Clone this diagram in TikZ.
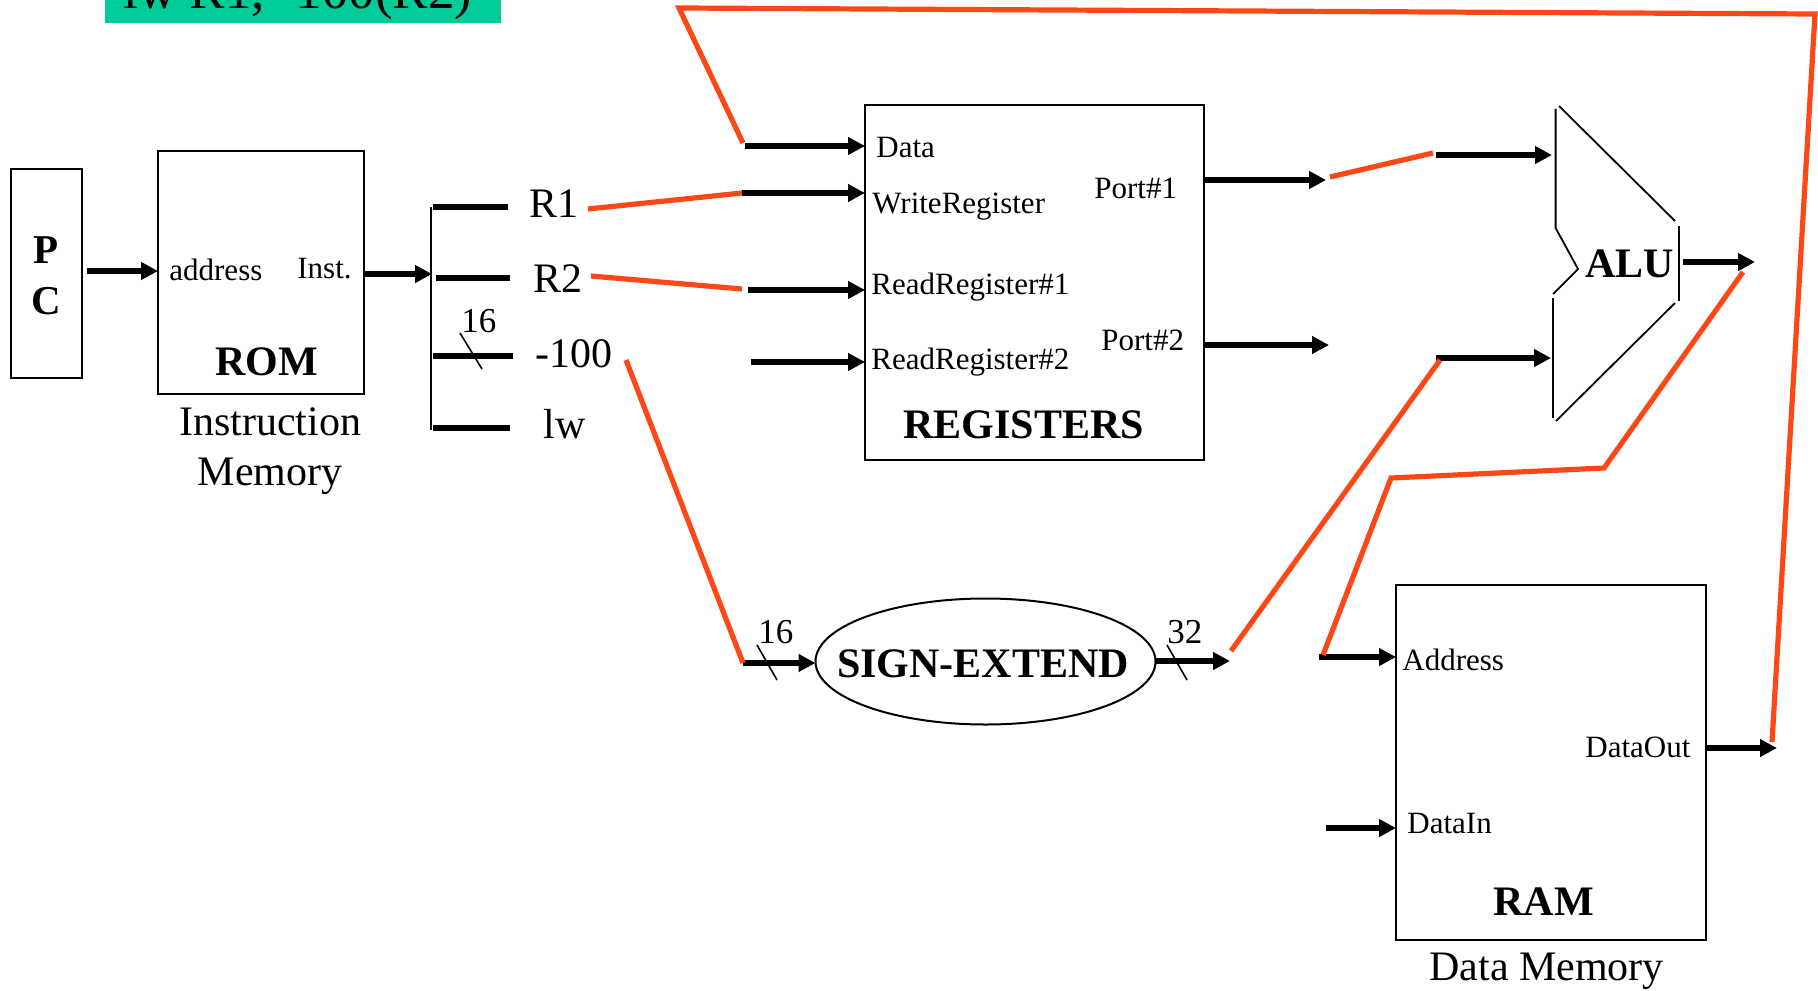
\documentclass[tikz,border=0pt]{standalone}
\usepackage{fontspec}
\setmainfont{Liberation Serif}
\usetikzlibrary{arrows.meta,shapes.geometric,calc}
\definecolor{wire}{RGB}{252,72,22}
\definecolor{banner}{RGB}{0,204,153}

\begin{document}
\begin{tikzpicture}[x=0.5pt,y=-0.5pt,
  box/.style={draw, line width=1pt, inner sep=0pt, outer sep=0pt},
  arr/.style={line width=2.75pt, -{Triangle[length=8.5pt,width=8.5pt]}},
  busline/.style={line width=2.75pt},
  fb/.style={draw=wire, line width=2.6pt, line join=miter},
  thinline/.style={line width=0.8pt},
  lbl/.style={inner sep=0pt, anchor=base west, font=\fontsize{15.5pt}{18pt}\selectfont},
  big/.style={inner sep=0pt, anchor=base west, font=\fontsize{21pt}{25pt}\selectfont},
  bigb/.style={inner sep=0pt, anchor=base west, font=\fontsize{21pt}{25pt}\selectfont\bfseries},
  width/.style={inner sep=0pt, anchor=base west, font=\fontsize{17.5pt}{21pt}\selectfont}]

\useasboundingbox (0,0) rectangle (1818,990);
\clip (0,0) rectangle (1818,990);

% instruction banner
\fill[banner] (105,0) rectangle (501,23);
\node[inner sep=0pt, anchor=base west, font=\fontsize{26.5pt}{30pt}\selectfont] (title) at (123,9) {lw R1, -100(R2)};

% ---- blocks ----
\node[box, minimum width=35.5pt, minimum height=104.5pt] (pc) at (46.5,273.5) {};
\node[inner sep=0pt, anchor=base, font=\fontsize{20.5pt}{24pt}\selectfont\bfseries] (pcP) at (46,263) {P};
\node[inner sep=0pt, anchor=base, font=\fontsize{20.5pt}{24pt}\selectfont\bfseries] (pcC) at (46,314) {C};

\node[box, minimum width=103pt, minimum height=121.5pt] (rom) at (261,272.5) {};
\node[lbl] (romA) at (169,280) {address};
\node[lbl] (romI) at (297,278) {Inst.};
\node[bigb] (romN) at (215,375) {ROM};
\node[big, anchor=base] (imem1) at (270,435) {Instruction};
\node[big, anchor=base] (imem2) at (270,485) {Memory};

\node[box, minimum width=169.5pt, minimum height=177.5pt] (reg) at (1034.5,282.5) {};
\node[lbl] (rData) at (876,157) {Data};
\node[lbl] (rWR) at (872,213) {WriteRegister};
\node[lbl] (rP1) at (1094,198) {Port\#1};
\node[lbl] (rRR1) at (871,294) {ReadRegister\#1};
\node[lbl] (rRR2) at (871,369) {ReadRegister\#2};
\node[lbl] (rP2) at (1101,350) {Port\#2};
\node[bigb] (rN) at (903,438) {REGISTERS};

\node[box, minimum width=154.75pt, minimum height=177.5pt] (ram) at (1550.75,762.5) {};
\node[lbl] (mAddr) at (1402,670) {Address};
\node[lbl] (mOut) at (1585,757) {DataOut};
\node[lbl] (mIn) at (1407,833) {DataIn};
\node[bigb] (mN) at (1493,915) {RAM};
\node[big] (dmem) at (1429,980) {Data Memory};

\node[box, ellipse, minimum width=170pt, minimum height=63pt] (se) at (985.5,661.5) {};
\node[bigb, anchor=base] (seN) at (983,677) {SIGN-EXTEND};

% ---- ALU outline ----
\begin{scope}[line width=0.9pt]
  \draw (1555.6,109) -- (1555.6,228) -- (1578,269) -- (1553,294);
  \draw (1553,298) -- (1553,418);
  \draw (1559,106) -- (1675,221);
  \draw (1679,226) -- (1679,301);
  \draw (1675,303) -- (1556,421);
\end{scope}
\node[bigb] (aluN) at (1585,277) {ALU};
\coordinate (aluA) at (1552,155);
\coordinate (aluB) at (1551,358);
\coordinate (aluO) at (1683,262);

% ---- instruction fields ----
\coordinate (busT) at (430.6,207);
\coordinate (busB) at (430.6,430);
\draw[thinline, line width=1pt] (busT) -- (busB);
\node[big] (fR1) at (529,217) {R1};
\node[big] (fR2) at (533,292) {R2};
\node[big] (fImm) at (535,367) {-100};
\node[big] (fOp) at (543,438) {lw};
\coordinate (bR1) at (508,207);
\coordinate (bR2) at (510,278);
\coordinate (bImm) at (513,356);
\coordinate (bOp) at (510,428);
\draw[busline] (433,207) -- (bR1);
\draw[busline] (436,278) -- (bR2);
\draw[busline] (433,356) -- (bImm);
\draw[busline] (433,428) -- (bOp);
\draw[thinline] (460,333) -- (482,369);
\node[width] (w16a) at (461,332) {16};

% ---- black connectors ----
\coordinate (pcO) at (87,271);
\draw[arr] (pcO) -- (pcO -| rom.west);
\coordinate (busIn) at (432,274);
\draw[arr] (rom.east |- busIn) -- (busIn);

\coordinate (inData) at (745,146);
\coordinate (inWR) at (742,193);
\coordinate (inRR1) at (748,290);
\coordinate (inRR2) at (751,362);
\draw[arr] (inData) -- (inData -| reg.west);
\draw[arr] (inWR) -- (inWR -| reg.west);
\draw[arr] (inRR1) -- (inRR1 -| reg.west);
\draw[arr] (inRR2) -- (inRR2 -| reg.west);

\coordinate (p1End) at (1326,180);
\coordinate (p2End) at (1329,345);
\draw[arr] (reg.east |- p1End) -- (p1End);
\draw[arr] (reg.east |- p2End) -- (p2End);

\coordinate (aluAin) at (1436,155);
\coordinate (aluBin) at (1436,358);
\draw[arr] (aluAin) -- (aluA);
\draw[arr] (aluBin) -- (aluB);
\coordinate (aluEnd) at (1755,262);
\draw[arr] (aluO) -- (aluEnd);

\coordinate (seIn) at (743,663);
\draw[arr] (seIn) -- (seIn -| se.west);
\coordinate (seEnd) at (1230,661);
\draw[arr] (se.east |- seEnd) -- (seEnd);
\draw[thinline] (757,645) -- (777,680);
\draw[thinline] (1167,645) -- (1187,680);
\node[width] (w16b) at (758,643) {16};
\node[width] (w32) at (1167,643) {32};

\coordinate (inAddr) at (1319,657);
\coordinate (inDin) at (1326,828);
\draw[arr] (inAddr) -- (inAddr -| ram.west);
\draw[arr] (inDin) -- (inDin -| ram.west);
\coordinate (outEnd) at (1777,748);
\draw[arr] (ram.east |- outEnd) -- (outEnd);

% ---- routed wires for lw ----
\draw[fb] (588,209) -- (inWR);
\draw[fb] (591,276) -- (742,289);
\draw[fb] (626,360) -- (seIn);
\draw[fb] (1772,742) -- (1815,14) -- (679,8) -- (743,143);
\draw[fb] (1330,177) -- (1433,153);
\draw[fb] (1231,651) -- (1440,360);
\draw[fb] (1743,272) -- (1604,468) -- (1391,478) -- (1323,655);

\end{tikzpicture}
\end{document}
